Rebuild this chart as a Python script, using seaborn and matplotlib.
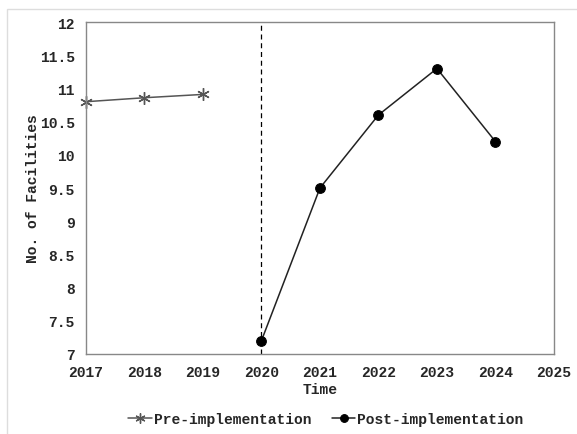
import seaborn as sns
import pandas as pd
import numpy as np
import matplotlib.pyplot as plt
from matplotlib.patches import Rectangle

pre_years = [2017, 2018, 2019]
pre_values = [10.8, 10.86, 10.91]
post_years = [2020, 2021, 2022, 2023, 2024]
post_values = [7.2, 9.5, 10.6, 11.3, 10.2]
x_ticks = [2017, 2018, 2019, 2020, 2021, 2022, 2023, 2024, 2025]
y_ticks = [7, 7.5, 8, 8.5, 9, 9.5, 10, 10.5, 11, 11.5, 12]

sns.set_style("white")
plt.rcParams['font.family'] = ['Liberation Mono', 'DejaVu Sans Mono']
plt.rcParams['font.weight'] = 'bold'

fig = plt.figure(figsize=(5.77, 4.35), dpi=100)
ax = fig.add_axes([0.149, 0.184, 0.811, 0.763])

pre = pd.DataFrame({"Time": pre_years, "Value": pre_values})
post = pd.DataFrame({"Time": post_years, "Value": post_values})

sns.lineplot(data=pre, x="Time", y="Value", ax=ax, color="#555555", lw=1.1,
             marker=(6, 2, 0), markersize=9, markeredgecolor="#555555",
             markeredgewidth=1.0, label="Pre-implementation", clip_on=False)
sns.lineplot(data=post, x="Time", y="Value", ax=ax, color="#222222", lw=1.1,
             marker="o", markersize=7, markerfacecolor="black",
             markeredgecolor="black", label="Post-implementation", clip_on=False)

ax.axvline(2020, color="black", ls=(0, (4, 3)), lw=0.9, zorder=0)

ax.set_xlim(2017, 2025)
ax.set_ylim(7, 12)
ax.set_xticks(x_ticks)
ax.set_yticks(y_ticks)
ax.set_xticklabels([str(t) for t in x_ticks], fontsize=10.5, fontweight="bold")
ax.set_yticklabels([f"{t:g}" for t in y_ticks], fontsize=10.5, fontweight="bold")
ax.tick_params(length=0, pad=8)
ax.set_xlabel("Time", fontsize=10.5, fontweight="bold", labelpad=2)
ax.set_ylabel("No. of Facilities", fontsize=10.5, fontweight="bold", labelpad=0)
for s in ax.spines.values():
    s.set_color("#888888")
    s.set_linewidth(1.0)

ax.legend(loc="center", bbox_to_anchor=(0.565, 0.034), bbox_transform=fig.transFigure,
          ncol=2, frameon=False, handlelength=1.6, handletextpad=0.15,
          columnspacing=1.4, markerscale=0.8, prop={"weight": "bold", "size": 10.5})

fig.patches.append(Rectangle((0.012, -0.01), 1.1, 0.988, transform=fig.transFigure,
                             fill=False, edgecolor="#dddddd", lw=1.0))

fig.savefig("out.png", dpi=100)
